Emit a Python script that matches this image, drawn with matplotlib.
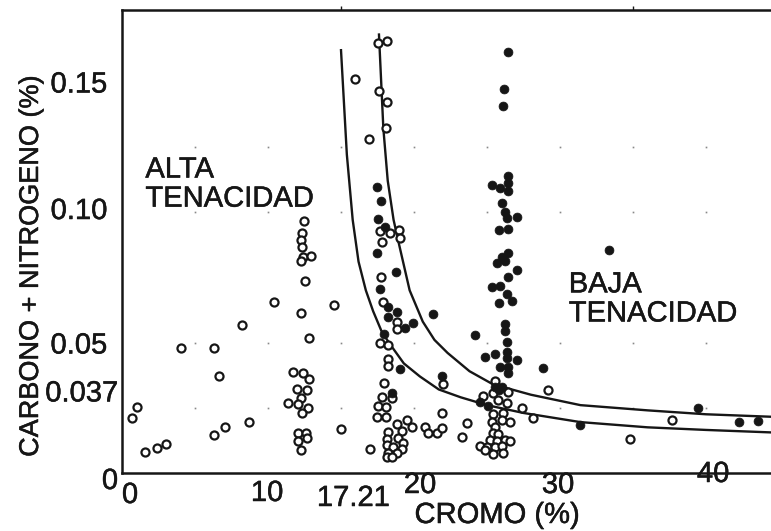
import matplotlib.pyplot as plt
import matplotlib.patheffects as pe
from matplotlib.transforms import ScaledTranslation

plt.rcParams['font.family'] = ['Liberation Sans', 'DejaVu Sans']

# open circles: alta tenacidad (cromo %, carbono + nitrogeno %)
open_x = [0.68, 1.03, 1.58, 2.40, 3.01, 4.04, 6.30, 6.64, 6.30, 7.05, 8.22, 8.70,
          10.41, 14.52, 15.00, 16.99,
          12.47, 12.33, 12.26, 12.33, 12.40, 12.95, 12.26, 12.53, 12.26, 12.81,
          11.71, 12.40, 12.81, 11.99, 12.67, 12.26, 11.37, 12.05, 12.74, 12.33,
          12.05, 12.60, 12.67, 12.05, 12.26,
          17.53, 18.15, 15.96, 17.60, 18.15, 18.08, 16.92, 17.67, 18.36, 18.97,
          19.04, 17.81, 17.74, 17.88, 18.84, 18.84, 17.67, 18.22, 18.22, 18.22,
          17.95, 21.99, 17.81, 18.49, 17.53, 18.08, 17.47, 18.08, 21.92, 18.84,
          19.52, 19.86, 20.75, 20.96, 21.58, 21.92, 18.22, 19.18, 18.15, 18.90,
          19.25, 18.15, 18.56, 19.18, 18.22, 18.84, 18.15, 18.49,
          25.55, 29.18, 24.73, 25.41, 26.44, 25.75, 26.37, 27.40, 25.41, 26.10,
          28.15, 25.34, 26.03, 26.58, 23.63, 25.55, 25.41, 25.75, 23.29, 25.21,
          25.68, 26.23, 26.58, 24.52, 25.00, 25.55, 26.03, 24.86, 25.41, 26.10,
          37.67, 34.79]
open_y = [0.0211, 0.0253, 0.0080, 0.0096, 0.0111, 0.0479, 0.0479, 0.0372, 0.0146, 0.0176, 0.0567, 0.0195,
          0.0655, 0.0644, 0.0169, 0.0092,
          0.0966, 0.0920, 0.0893, 0.0866, 0.0828, 0.0831, 0.0812, 0.0736, 0.0613, 0.0517,
          0.0387, 0.0383, 0.0360, 0.0322, 0.0318, 0.0287, 0.0268, 0.0264, 0.0249, 0.0230,
          0.0153, 0.0153, 0.0134, 0.0123, 0.0088,
          0.1648, 0.1655, 0.1510, 0.1464, 0.1421, 0.1322, 0.1280, 0.0927, 0.0920, 0.0931,
          0.0900, 0.0885, 0.0751, 0.0655, 0.0579, 0.0552, 0.0498, 0.0490, 0.0437, 0.0410,
          0.0345, 0.0341, 0.0291, 0.0287, 0.0257, 0.0253, 0.0215, 0.0215, 0.0230, 0.0188,
          0.0203, 0.0176, 0.0176, 0.0153, 0.0153, 0.0172, 0.0157, 0.0161, 0.0130, 0.0134,
          0.0115, 0.0107, 0.0100, 0.0092, 0.0077, 0.0077, 0.0061, 0.0061,
          0.0352, 0.0318, 0.0295, 0.0307, 0.0310, 0.0280, 0.0268, 0.0249, 0.0226, 0.0230,
          0.0211, 0.0195, 0.0203, 0.0195, 0.0192, 0.0176, 0.0153, 0.0149, 0.0138, 0.0126,
          0.0123, 0.0126, 0.0123, 0.0103, 0.0100, 0.0100, 0.0103, 0.0088, 0.0073, 0.0077,
          0.0203, 0.0130]

# filled circles: baja tenacidad
solid_x = [17.47, 17.74, 17.53, 18.01, 17.47, 18.77, 17.67, 18.22, 18.84, 18.22,
           19.93, 19.38, 21.30, 17.95, 19.04, 21.92, 18.49,
           26.44, 26.16, 26.10, 26.44, 26.44, 25.34, 25.89, 26.44, 26.03, 26.23,
           26.37, 27.05, 25.82, 26.44, 26.44, 26.03, 25.68, 26.23, 27.05, 26.44,
           25.34, 25.89, 26.37, 25.82, 26.71, 26.23, 26.23, 24.18, 26.37, 24.86,
           25.55, 26.37, 26.37, 27.05, 25.89, 26.44, 26.44, 28.84, 25.55, 26.03,
           25.82, 24.52, 25.07,
           33.36, 39.45, 31.37, 42.26, 43.56]
solid_y = [0.1096, 0.1042, 0.0973, 0.0943, 0.0843, 0.0770, 0.0705, 0.0636, 0.0617, 0.0598,
           0.0575, 0.0556, 0.0609, 0.0533, 0.0398, 0.0372, 0.0307,
           0.1613, 0.1471, 0.1406, 0.1138, 0.1111, 0.1103, 0.1092, 0.1080, 0.1034, 0.1000,
           0.0977, 0.0981, 0.0931, 0.0935, 0.0843, 0.0828, 0.0805, 0.0812, 0.0778, 0.0751,
           0.0713, 0.0716, 0.0686, 0.0651, 0.0659, 0.0571, 0.0544, 0.0529, 0.0502, 0.0444,
           0.0456, 0.0464, 0.0441, 0.0433, 0.0406, 0.0406, 0.0383, 0.0402, 0.0330, 0.0330,
           0.0318, 0.0272, 0.0257,
           0.0854, 0.0249, 0.0184, 0.0195, 0.0199]

# boundary curves
inner_x = [15.0, 15.4, 15.8, 16.2, 16.7, 17.2, 17.8, 18.4, 19.3, 20.4, 21.7, 23.2,
           25.0, 27.5, 31.4, 36.0, 40.0, 44.7]
inner_y = [0.162, 0.122, 0.097, 0.081, 0.070, 0.062, 0.054, 0.049, 0.042, 0.037, 0.032, 0.029,
           0.026, 0.023, 0.0195, 0.0175, 0.0165, 0.0155]
outer_x = [17.6, 17.9, 18.2, 18.6, 19.0, 19.7, 20.6, 21.4, 22.3, 23.8, 25.4, 28.0,
           31.4, 36.0, 40.0, 44.7]
outer_y = [0.168, 0.132, 0.112, 0.097, 0.087, 0.070, 0.058, 0.051, 0.046, 0.039, 0.034, 0.030,
           0.026, 0.024, 0.0225, 0.0215]

xtick_vals = [0, 10, 17.21, 20, 30, 40]
xtick_text = ['0', '10', '17.21', '20', '30', '40']
ytick_vals = [0, 0.037, 0.05, 0.10, 0.15]
ytick_text = ['0', '0.037', '0.05', '0.10', '0.15']
grid_cols = [5, 10, 15, 20, 25, 30, 35, 40]
grid_rows = [0.025, 0.05, 0.10, 0.125]

ink = '#161616'
fs = 21
heavy = [pe.withStroke(linewidth=0.35, foreground=ink)]

fig = plt.figure(figsize=(7.71, 5.31), dpi=100)
ax = fig.add_axes([122 / 771, 58 / 531, 649 / 771, 463 / 531])
ax.set_xlim(0, 44.45)
ax.set_ylim(0, 0.1774)

# faint dotted grid marks
gx = [c for c in grid_cols for r in grid_rows]
gy = [r for c in grid_cols for r in grid_rows]
ax.plot(gx, gy, ls='none', marker='s', ms=1.2, color='#888888', mew=0)

ax.plot(inner_x, inner_y, color=ink, lw=1.7)
ax.plot(outer_x, outer_y, color=ink, lw=1.7)

ax.plot(open_x, open_y, ls='none', marker='o', ms=5.8, mfc='white', mec=ink, mew=1.6)
ax.plot(solid_x, solid_y, ls='none', marker='o', ms=6.4, mfc=ink, mec=ink, mew=0.5)

ax.text(1.6, 0.1107, 'ALTA\nTENACIDAD', fontsize=fs, color=ink, va='center',
        linespacing=1.05, path_effects=heavy)
ax.text(30.6, 0.0667, 'BAJA\nTENACIDAD', fontsize=fs, color=ink, va='center',
        linespacing=1.05, path_effects=heavy)

for side in ['left', 'bottom', 'top']:
    ax.spines[side].set_linewidth(1.8)
    ax.spines[side].set_color(ink)
ax.spines['right'].set_visible(False)

ax.set_xticks(xtick_vals, xtick_text)
ax.set_yticks(ytick_vals, ytick_text)
ax.set_xticks(grid_cols[1:3] + grid_cols[5:], minor=True)
ax.tick_params(which='major', length=0, pad=0, labelsize=fs, labelcolor=ink)
ax.tick_params(which='minor', bottom=False, top=True, direction='out', length=3, width=1, color=ink)

# hand-placed offsets of the tick labels (pixels)
x_shift = [(8, 22), (-1, 20), (-20, 25), (6, 12), (-2, 12), (7, 1)]
y_shift = [(-4, 5), (-4, 14), (-15, 0), (-15, -4), (-15, 0)]
for lab, (dx, dy) in zip(ax.get_xticklabels(), x_shift):
    lab.set_verticalalignment('center')
    lab.set_path_effects(heavy)
    lab.set_transform(lab.get_transform() + ScaledTranslation(dx / 100, -dy / 100, fig.dpi_scale_trans))
for lab, (dx, dy) in zip(ax.get_yticklabels(), y_shift):
    lab.set_path_effects(heavy)
    lab.set_transform(lab.get_transform() + ScaledTranslation(dx / 100, -dy / 100, fig.dpi_scale_trans))

fig.text(497 / 771, 1 - 515 / 531, 'CROMO (%)', fontsize=fs, color=ink, ha='center', va='center',
         path_effects=heavy)
fig.text(31 / 771, 1 - 266 / 531, 'CARBONO + NITROGENO (%)', fontsize=19.5, color=ink,
         ha='center', va='center', rotation=90, path_effects=heavy)

fig.savefig('out.png', dpi=100)
